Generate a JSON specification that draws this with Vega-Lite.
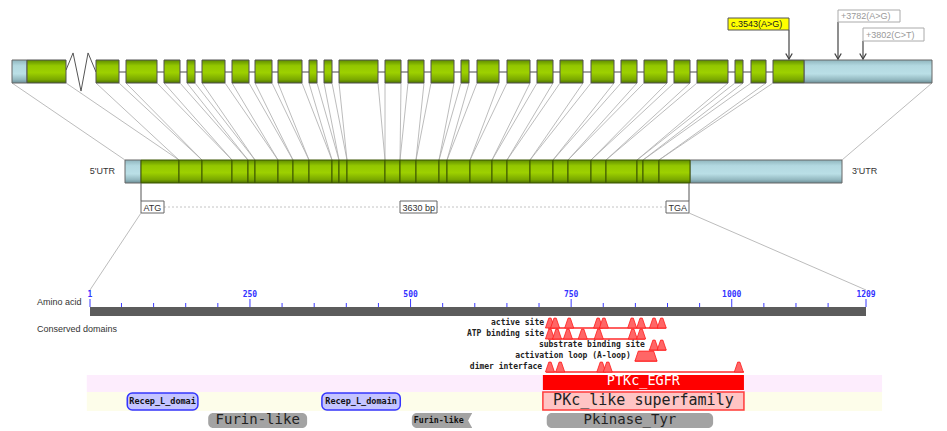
{
"$schema":"https://vega.github.io/schema/vega-lite/v6.json",
"width":947,"height":431,"padding":0,"autosize":{"type":"none"},
"background":"#ffffff",
"config":{"view":{"stroke":null},"axis":{"disable":true},"legend":{"disable":true}},
"datasets":{
"topExons":[{"exon":1,"start":27,"end":66},{"exon":2,"start":96,"end":119},{"exon":3,"start":126,"end":157},{"exon":4,"start":164,"end":180},{"exon":5,"start":187,"end":195},{"exon":6,"start":202,"end":225},{"exon":7,"start":232,"end":249},{"exon":8,"start":255,"end":272},{"exon":9,"start":278,"end":302},{"exon":10,"start":309,"end":317},{"exon":11,"start":324,"end":332},{"exon":12,"start":339,"end":378},{"exon":13,"start":385,"end":401},{"exon":14,"start":408,"end":424},{"exon":15,"start":431,"end":454},{"exon":16,"start":461,"end":469},{"exon":17,"start":477,"end":499},{"exon":18,"start":507,"end":530},{"exon":19,"start":537,"end":553},{"exon":20,"start":560,"end":583},{"exon":21,"start":591,"end":614},{"exon":22,"start":621,"end":637},{"exon":23,"start":644,"end":667},{"exon":24,"start":674,"end":690},{"exon":25,"start":697,"end":728},{"exon":26,"start":735,"end":743},{"exon":27,"start":751,"end":766},{"exon":28,"start":773,"end":804}],
"topUTR":[{"utr":"5'UTR","start":12,"end":27},{"utr":"3'UTR","start":804,"end":932}],
"mrnaExons":[{"exon":1,"start":141,"end":179},{"exon":2,"start":179,"end":202},{"exon":3,"start":202,"end":232},{"exon":4,"start":232,"end":248},{"exon":5,"start":248,"end":255},{"exon":6,"start":255,"end":278},{"exon":7,"start":278,"end":293},{"exon":8,"start":293,"end":309},{"exon":9,"start":309,"end":332},{"exon":10,"start":332,"end":339},{"exon":11,"start":339,"end":347},{"exon":12,"start":347,"end":385},{"exon":13,"start":385,"end":400},{"exon":14,"start":400,"end":416},{"exon":15,"start":416,"end":439},{"exon":16,"start":439,"end":447},{"exon":17,"start":447,"end":470},{"exon":18,"start":470,"end":492},{"exon":19,"start":492,"end":507},{"exon":20,"start":507,"end":530},{"exon":21,"start":530,"end":553},{"exon":22,"start":553,"end":568},{"exon":23,"start":568,"end":591},{"exon":24,"start":591,"end":606},{"exon":25,"start":606,"end":637},{"exon":26,"start":637,"end":643},{"exon":27,"start":643,"end":659},{"exon":28,"start":659,"end":690}],
"mrnaUTR":[{"utr":"5'UTR","start":125,"end":141},{"utr":"3'UTR","start":690,"end":842}],
"connectors":[{"genomic":12,"mrna":125},{"genomic":66,"mrna":179},{"genomic":96,"mrna":179},{"genomic":119,"mrna":202},{"genomic":126,"mrna":202},{"genomic":157,"mrna":232},{"genomic":164,"mrna":232},{"genomic":180,"mrna":248},{"genomic":187,"mrna":248},{"genomic":195,"mrna":255},{"genomic":202,"mrna":255},{"genomic":225,"mrna":278},{"genomic":232,"mrna":278},{"genomic":249,"mrna":293},{"genomic":255,"mrna":293},{"genomic":272,"mrna":309},{"genomic":278,"mrna":309},{"genomic":302,"mrna":332},{"genomic":309,"mrna":332},{"genomic":317,"mrna":339},{"genomic":324,"mrna":339},{"genomic":332,"mrna":347},{"genomic":339,"mrna":347},{"genomic":378,"mrna":385},{"genomic":385,"mrna":385},{"genomic":401,"mrna":400},{"genomic":408,"mrna":400},{"genomic":424,"mrna":416},{"genomic":431,"mrna":416},{"genomic":454,"mrna":439},{"genomic":461,"mrna":439},{"genomic":469,"mrna":447},{"genomic":477,"mrna":447},{"genomic":499,"mrna":470},{"genomic":507,"mrna":470},{"genomic":530,"mrna":492},{"genomic":537,"mrna":492},{"genomic":553,"mrna":507},{"genomic":560,"mrna":507},{"genomic":583,"mrna":530},{"genomic":591,"mrna":530},{"genomic":614,"mrna":553},{"genomic":621,"mrna":553},{"genomic":637,"mrna":568},{"genomic":644,"mrna":568},{"genomic":667,"mrna":591},{"genomic":674,"mrna":591},{"genomic":690,"mrna":606},{"genomic":697,"mrna":606},{"genomic":728,"mrna":637},{"genomic":735,"mrna":637},{"genomic":743,"mrna":643},{"genomic":751,"mrna":643},{"genomic":766,"mrna":659},{"genomic":773,"mrna":659},{"genomic":932,"mrna":842}],
"cdsLabels":[{"label":"ATG","boxStart":141,"boxEnd":164},{"label":"3630 bp","boxStart":400,"boxEnd":437},{"label":"TGA","boxStart":666,"boxEnd":689}],
"codons":[{"codon":"start (ATG)","pos":141},{"codon":"stop (TGA)","pos":689}],
"mutations":[{"mutation":"c.3543(A>G)","region":"coding","site":789,"boxStart":728,"boxEnd":789,"boxTop":18,"boxBottom":30},{"mutation":"+3782(A>G)","region":"3'UTR","site":838,"boxStart":838,"boxEnd":900,"boxTop":10,"boxBottom":22},{"mutation":"+3802(C>T)","region":"3'UTR","site":863,"boxStart":863,"boxEnd":924,"boxTop":28,"boxBottom":41}],
"aaTicks":[{"aa":1,"major":true},{"aa":50,"major":false},{"aa":100,"major":false},{"aa":150,"major":false},{"aa":200,"major":false},{"aa":250,"major":true},{"aa":300,"major":false},{"aa":350,"major":false},{"aa":400,"major":false},{"aa":450,"major":false},{"aa":500,"major":true},{"aa":550,"major":false},{"aa":600,"major":false},{"aa":650,"major":false},{"aa":700,"major":false},{"aa":750,"major":true},{"aa":800,"major":false},{"aa":850,"major":false},{"aa":900,"major":false},{"aa":950,"major":false},{"aa":1000,"major":true},{"aa":1050,"major":false},{"aa":1100,"major":false},{"aa":1150,"major":false},{"aa":1209,"major":true}],
"domains":[{"name":"PTKc_EGFR","label":"PTKc_EGFR","start":706,"end":1019,"type":"specific"},{"name":"PKc_like superfamily","label":"PKc_like superfamily","start":706,"end":1019,"type":"superfamily"},{"name":"Recep_L_domain 1","label":"Recep_L_domai","start":59,"end":169,"type":"pfam-blue"},{"name":"Recep_L_domain 2","label":"Recep_L_domain","start":362,"end":484,"type":"pfam-blue"},{"name":"Furin-like 1","label":"Furin-like","start":185,"end":339,"type":"pfam-gray"},{"name":"Furin-like 2","label":"Furin-like","start":502,"end":596,"type":"pfam-gray-partial"},{"name":"Pkinase_Tyr","label":"Pkinase_Tyr","start":712,"end":971,"type":"pfam-gray"}],
"sites":[{"site":"active site","start":714,"end":898},{"site":"ATP binding site","start":714,"end":865},{"site":"substrate binding site","start":871,"end":898},{"site":"activation loop (A-loop)","start":849,"end":884},{"site":"dimer interface","start":711,"end":1019}],
"siteMarks":[{"site":"active site","aa":717},{"site":"active site","aa":725},{"site":"active site","aa":747},{"site":"active site","aa":792},{"site":"active site","aa":801},{"site":"active site","aa":845},{"site":"active site","aa":859},{"site":"active site","aa":879},{"site":"active site","aa":891},{"site":"ATP binding site","aa":717},{"site":"ATP binding site","aa":728},{"site":"ATP binding site","aa":745},{"site":"ATP binding site","aa":768},{"site":"ATP binding site","aa":793},{"site":"ATP binding site","aa":846},{"site":"ATP binding site","aa":859},{"site":"substrate binding site","aa":879},{"site":"substrate binding site","aa":891},{"site":"dimer interface","aa":717},{"site":"dimer interface","aa":733},{"site":"dimer interface","aa":797},{"site":"dimer interface","aa":807},{"site":"dimer interface","aa":1011}]
},
"layer":[
{
"layer":[
{"data":{"values":[{"from":96,"to":804}]},"mark":{"type":"rule","stroke":"#4a4a4a","strokeWidth":1.2},
 "encoding":{"x":{"field":"from","type":"quantitative","scale":{"domain":[0,947],"range":[0,947],"nice":false,"zero":false}},"x2":{"field":"to"},"y":{"datum":72,"type":"quantitative","scale":{"domain":[0,431],"range":[0,431],"nice":false,"zero":false}}}},
{"data":{"values":[{"break":"intron 1 (not to scale)","x":81}]},"mark":{"type":"point","shape":"M-1,-0.13L-0.53,-1.27L0,1.27L0.47,-1.27L1,0","size":900,"filled":false,"stroke":"#555555","strokeWidth":1,"opacity":1},
 "encoding":{"x":{"field":"x","type":"quantitative","scale":{"domain":[0,947],"range":[0,947],"nice":false,"zero":false}},"y":{"datum":72,"type":"quantitative","scale":{"domain":[0,431],"range":[0,431],"nice":false,"zero":false}}}},
{"data":{"name":"connectors"},"mark":{"type":"rule","stroke":"#ababab","strokeWidth":0.8},
 "encoding":{"x":{"field":"genomic","type":"quantitative","scale":{"domain":[0,947],"range":[0,947],"nice":false,"zero":false}},"x2":{"field":"mrna"},"y":{"datum":83,"type":"quantitative","scale":{"domain":[0,431],"range":[0,431],"nice":false,"zero":false}},"y2":{"datum":160}}},
{"data":{"name":"topUTR"},"mark":{"type":"rect","stroke":"#666666","strokeWidth":1,"fill":{"gradient":"linear","x1":0,"y1":0,"x2":0,"y2":1,"stops":[{"offset":0,"color":"#8fb5bd"},{"offset":0.25,"color":"#b3d9e1"},{"offset":0.6,"color":"#badfe6"},{"offset":0.85,"color":"#94b9c1"},{"offset":1,"color":"#6c8f97"}]}},
 "encoding":{"x":{"field":"start","type":"quantitative","scale":{"domain":[0,947],"range":[0,947],"nice":false,"zero":false}},"x2":{"field":"end"},"y":{"datum":60,"type":"quantitative","scale":{"domain":[0,431],"range":[0,431],"nice":false,"zero":false}},"y2":{"datum":83}}},
{"data":{"name":"topExons"},"mark":{"type":"rect","stroke":"#505050","strokeWidth":1,"fill":{"gradient":"linear","x1":0,"y1":0,"x2":0,"y2":1,"stops":[{"offset":0,"color":"#5f8c00"},{"offset":0.25,"color":"#94c800"},{"offset":0.55,"color":"#9dd000"},{"offset":0.85,"color":"#7aa800"},{"offset":1,"color":"#4b6f00"}]}},
 "encoding":{"x":{"field":"start","type":"quantitative","scale":{"domain":[0,947],"range":[0,947],"nice":false,"zero":false}},"x2":{"field":"end"},"y":{"datum":60,"type":"quantitative","scale":{"domain":[0,431],"range":[0,431],"nice":false,"zero":false}},"y2":{"datum":83}}},
{"data":{"name":"mrnaUTR"},"mark":{"type":"rect","stroke":"#666666","strokeWidth":1,"fill":{"gradient":"linear","x1":0,"y1":0,"x2":0,"y2":1,"stops":[{"offset":0,"color":"#8fb5bd"},{"offset":0.25,"color":"#b3d9e1"},{"offset":0.6,"color":"#badfe6"},{"offset":0.85,"color":"#94b9c1"},{"offset":1,"color":"#6c8f97"}]}},
 "encoding":{"x":{"field":"start","type":"quantitative","scale":{"domain":[0,947],"range":[0,947],"nice":false,"zero":false}},"x2":{"field":"end"},"y":{"datum":160,"type":"quantitative","scale":{"domain":[0,431],"range":[0,431],"nice":false,"zero":false}},"y2":{"datum":183}}},
{"data":{"name":"mrnaExons"},"mark":{"type":"rect","stroke":"#3b5400","strokeWidth":1,"fill":{"gradient":"linear","x1":0,"y1":0,"x2":0,"y2":1,"stops":[{"offset":0,"color":"#5f8c00"},{"offset":0.25,"color":"#94c800"},{"offset":0.55,"color":"#9dd000"},{"offset":0.85,"color":"#7aa800"},{"offset":1,"color":"#4b6f00"}]}},
 "encoding":{"x":{"field":"start","type":"quantitative","scale":{"domain":[0,947],"range":[0,947],"nice":false,"zero":false}},"x2":{"field":"end"},"y":{"datum":160,"type":"quantitative","scale":{"domain":[0,431],"range":[0,431],"nice":false,"zero":false}},"y2":{"datum":183}}},
{"data":{"name":"mrnaUTR"},"transform":[{"filter":{"field":"utr","equal":"5'UTR"}}],"mark":{"type":"text","align":"right","baseline":"middle","dx":-10,"font":"Liberation Sans","fontSize":9,"fill":"#333333"},
 "encoding":{"x":{"field":"start","type":"quantitative","scale":{"domain":[0,947],"range":[0,947],"nice":false,"zero":false}},"y":{"datum":171,"type":"quantitative","scale":{"domain":[0,431],"range":[0,431],"nice":false,"zero":false}},"text":{"field":"utr"}}},
{"data":{"name":"mrnaUTR"},"transform":[{"filter":{"field":"utr","equal":"3'UTR"}}],"mark":{"type":"text","align":"left","baseline":"middle","dx":10,"font":"Liberation Sans","fontSize":9,"fill":"#333333"},
 "encoding":{"x":{"field":"end","type":"quantitative","scale":{"domain":[0,947],"range":[0,947],"nice":false,"zero":false}},"y":{"datum":171,"type":"quantitative","scale":{"domain":[0,431],"range":[0,431],"nice":false,"zero":false}},"text":{"field":"utr"}}},
{"data":{"name":"codons"},"mark":{"type":"rule","stroke":"#555555","strokeWidth":1},
 "encoding":{"x":{"field":"pos","type":"quantitative","scale":{"domain":[0,947],"range":[0,947],"nice":false,"zero":false}},"y":{"datum":183,"type":"quantitative","scale":{"domain":[0,431],"range":[0,431],"nice":false,"zero":false}},"y2":{"datum":201}}},
{"data":{"values":[{"from":164,"to":666}]},"mark":{"type":"rule","stroke":"#c4c4c4","strokeWidth":1,"strokeDash":[2,2]},
 "encoding":{"x":{"field":"from","type":"quantitative","scale":{"domain":[0,947],"range":[0,947],"nice":false,"zero":false}},"x2":{"field":"to"},"y":{"datum":207,"type":"quantitative","scale":{"domain":[0,431],"range":[0,431],"nice":false,"zero":false}}}},
{"data":{"name":"cdsLabels"},"mark":{"type":"rect","fill":"#ffffff","stroke":"#666666","strokeWidth":1},
 "encoding":{"x":{"field":"boxStart","type":"quantitative","scale":{"domain":[0,947],"range":[0,947],"nice":false,"zero":false}},"x2":{"field":"boxEnd"},"y":{"datum":201,"type":"quantitative","scale":{"domain":[0,431],"range":[0,431],"nice":false,"zero":false}},"y2":{"datum":213}}},
{"data":{"name":"cdsLabels"},"mark":{"type":"text","align":"left","baseline":"middle","dx":2.5,"font":"Liberation Sans","fontSize":9,"fill":"#333333"},
 "encoding":{"x":{"field":"boxStart","type":"quantitative","scale":{"domain":[0,947],"range":[0,947],"nice":false,"zero":false}},"y":{"datum":207.5,"type":"quantitative","scale":{"domain":[0,431],"range":[0,431],"nice":false,"zero":false}},"text":{"field":"label"}}},
{"data":{"values":[{"cds":141,"protein":90},{"cds":689,"protein":866}]},"mark":{"type":"rule","stroke":"#ababab","strokeWidth":0.8},
 "encoding":{"x":{"field":"cds","type":"quantitative","scale":{"domain":[0,947],"range":[0,947],"nice":false,"zero":false}},"x2":{"field":"protein"},"y":{"datum":213,"type":"quantitative","scale":{"domain":[0,431],"range":[0,431],"nice":false,"zero":false}},"y2":{"datum":290}}},
{"data":{"values":[{"label":"Amino acid"}]},"mark":{"type":"text","align":"left","baseline":"middle","font":"Liberation Sans","fontSize":9,"fill":"#333333"},
 "encoding":{"x":{"datum":37,"type":"quantitative","scale":{"domain":[0,947],"range":[0,947],"nice":false,"zero":false}},"y":{"datum":302,"type":"quantitative","scale":{"domain":[0,431],"range":[0,431],"nice":false,"zero":false}},"text":{"field":"label"}}},
{"data":{"values":[{"label":"Conserved domains"}]},"mark":{"type":"text","align":"left","baseline":"middle","font":"Liberation Sans","fontSize":9,"fill":"#333333"},
 "encoding":{"x":{"datum":37,"type":"quantitative","scale":{"domain":[0,947],"range":[0,947],"nice":false,"zero":false}},"y":{"datum":329,"type":"quantitative","scale":{"domain":[0,431],"range":[0,431],"nice":false,"zero":false}},"text":{"field":"label"}}},
{"data":{"name":"mutations"},"mark":{"type":"rule","stroke":"#444444","strokeWidth":1.2},
 "encoding":{"x":{"field":"site","type":"quantitative","scale":{"domain":[0,947],"range":[0,947],"nice":false,"zero":false}},"y":{"field":"boxBottom","type":"quantitative","scale":{"domain":[0,431],"range":[0,431],"nice":false,"zero":false}},"y2":{"datum":59}}},
{"data":{"name":"mutations"},"mark":{"type":"point","shape":"M-1,-1.7L0,0L1,-1.7","size":42,"filled":false,"stroke":"#444444","strokeWidth":1.3,"opacity":1},
 "encoding":{"x":{"field":"site","type":"quantitative","scale":{"domain":[0,947],"range":[0,947],"nice":false,"zero":false}},"y":{"datum":59,"type":"quantitative","scale":{"domain":[0,431],"range":[0,431],"nice":false,"zero":false}}}},
{"data":{"name":"mutations"},"mark":{"type":"rect","strokeWidth":1},
 "encoding":{"x":{"field":"boxStart","type":"quantitative","scale":{"domain":[0,947],"range":[0,947],"nice":false,"zero":false}},"x2":{"field":"boxEnd"},"y":{"field":"boxTop","type":"quantitative","scale":{"domain":[0,431],"range":[0,431],"nice":false,"zero":false}},"y2":{"field":"boxBottom"},
  "fill":{"field":"region","type":"nominal","scale":{"domain":["coding","3'UTR"],"range":["#ffff00","#ffffff"]},"legend":null},
  "stroke":{"field":"region","type":"nominal","scale":{"domain":["coding","3'UTR"],"range":["#555555","#aaaaaa"]},"legend":null}}},
{"data":{"name":"mutations"},"mark":{"type":"text","align":"left","baseline":"bottom","dx":3,"dy":-1.5,"font":"Liberation Sans","fontSize":9},
 "encoding":{"x":{"field":"boxStart","type":"quantitative","scale":{"domain":[0,947],"range":[0,947],"nice":false,"zero":false}},"y":{"field":"boxBottom","type":"quantitative","scale":{"domain":[0,431],"range":[0,431],"nice":false,"zero":false}},"text":{"field":"mutation"},
  "color":{"field":"region","type":"nominal","scale":{"domain":["coding","3'UTR"],"range":["#222222","#999999"]},"legend":null}}}
]
},
{
"layer":[
{"data":{"values":[{"band":"specific hits","start":-4,"end":1234}]},"mark":{"type":"rect","fill":"#fdedfd"},
 "encoding":{"x":{"field":"start","type":"quantitative","scale":{"domain":[1,1209],"range":[90,866],"nice":false,"zero":false}},"x2":{"field":"end"},"y":{"datum":375,"type":"quantitative","scale":{"domain":[0,431],"range":[0,431],"nice":false,"zero":false}},"y2":{"datum":392}}},
{"data":{"values":[{"band":"superfamilies","start":-4,"end":1234}]},"mark":{"type":"rect","fill":"#fdfdea"},
 "encoding":{"x":{"field":"start","type":"quantitative","scale":{"domain":[1,1209],"range":[90,866],"nice":false,"zero":false}},"x2":{"field":"end"},"y":{"datum":392,"type":"quantitative","scale":{"domain":[0,431],"range":[0,431],"nice":false,"zero":false}},"y2":{"datum":411}}},
{"data":{"values":[{"protein":"EGFR","start":1,"end":1209}]},"mark":{"type":"rect","fill":"#5c5c5c"},
 "encoding":{"x":{"field":"start","type":"quantitative","scale":{"domain":[1,1209],"range":[90,866],"nice":false,"zero":false}},"x2":{"field":"end"},"y":{"datum":307,"type":"quantitative","scale":{"domain":[0,431],"range":[0,431],"nice":false,"zero":false}},"y2":{"datum":316}}},
{"data":{"name":"aaTicks"},"transform":[{"filter":"!datum.major"}],"mark":{"type":"rule","stroke":"#3b3bff","strokeWidth":1},
 "encoding":{"x":{"field":"aa","type":"quantitative","scale":{"domain":[1,1209],"range":[90,866],"nice":false,"zero":false}},"y":{"datum":303,"type":"quantitative","scale":{"domain":[0,431],"range":[0,431],"nice":false,"zero":false}},"y2":{"datum":307}}},
{"data":{"name":"aaTicks"},"transform":[{"filter":"datum.major"}],"mark":{"type":"rule","stroke":"#3b3bff","strokeWidth":1},
 "encoding":{"x":{"field":"aa","type":"quantitative","scale":{"domain":[1,1209],"range":[90,866],"nice":false,"zero":false}},"y":{"datum":299,"type":"quantitative","scale":{"domain":[0,431],"range":[0,431],"nice":false,"zero":false}},"y2":{"datum":307}}},
{"data":{"name":"aaTicks"},"transform":[{"filter":"datum.major"}],"mark":{"type":"text","align":"center","baseline":"middle","font":"DejaVu Sans Mono","fontWeight":"bold","fontSize":8,"fill":"#3333ff"},
 "encoding":{"x":{"field":"aa","type":"quantitative","scale":{"domain":[1,1209],"range":[90,866],"nice":false,"zero":false}},"y":{"datum":295,"type":"quantitative","scale":{"domain":[0,431],"range":[0,431],"nice":false,"zero":false}},"text":{"field":"aa","type":"quantitative","format":"d"}}},
{"data":{"name":"domains"},"transform":[{"filter":{"field":"type","equal":"specific"}}],"mark":{"type":"rect","fill":"#ff0000"},
 "encoding":{"x":{"field":"start","type":"quantitative","scale":{"domain":[1,1209],"range":[90,866],"nice":false,"zero":false}},"x2":{"field":"end"},"y":{"datum":375,"type":"quantitative","scale":{"domain":[0,431],"range":[0,431],"nice":false,"zero":false}},"y2":{"datum":390}}},
{"data":{"name":"domains"},"transform":[{"filter":{"field":"type","equal":"superfamily"}}],"mark":{"type":"rect","fill":"#ffc4c4","stroke":"#ff3b3b","strokeWidth":1.5},
 "encoding":{"x":{"field":"start","type":"quantitative","scale":{"domain":[1,1209],"range":[90,866],"nice":false,"zero":false}},"x2":{"field":"end"},"y":{"datum":392,"type":"quantitative","scale":{"domain":[0,431],"range":[0,431],"nice":false,"zero":false}},"y2":{"datum":410}}},
{"data":{"name":"domains"},"transform":[{"filter":{"field":"type","equal":"pfam-blue"}}],"mark":{"type":"rect","fill":"#c4c4ff","stroke":"#3535ff","strokeWidth":1.5,"cornerRadius":5},
 "encoding":{"x":{"field":"start","type":"quantitative","scale":{"domain":[1,1209],"range":[90,866],"nice":false,"zero":false}},"x2":{"field":"end"},"y":{"datum":393,"type":"quantitative","scale":{"domain":[0,431],"range":[0,431],"nice":false,"zero":false}},"y2":{"datum":410}}},
{"data":{"name":"domains"},"transform":[{"filter":{"field":"type","equal":"pfam-gray"}}],"mark":{"type":"rect","fill":"#a3a3a3","cornerRadius":5},
 "encoding":{"x":{"field":"start","type":"quantitative","scale":{"domain":[1,1209],"range":[90,866],"nice":false,"zero":false}},"x2":{"field":"end"},"y":{"datum":413,"type":"quantitative","scale":{"domain":[0,431],"range":[0,431],"nice":false,"zero":false}},"y2":{"datum":428}}},
{"data":{"name":"domains"},"transform":[{"filter":{"field":"type","equal":"pfam-gray-partial"}}],"mark":{"type":"rect","fill":"#a3a3a3","cornerRadiusTopLeft":5,"cornerRadiusBottomLeft":5},
 "encoding":{"x":{"field":"start","type":"quantitative","scale":{"domain":[1,1209],"range":[90,866],"nice":false,"zero":false}},"x2":{"field":"end"},"y":{"datum":413,"type":"quantitative","scale":{"domain":[0,431],"range":[0,431],"nice":false,"zero":false}},"y2":{"datum":428}}},
{"data":{"name":"domains"},"transform":[{"filter":{"field":"type","equal":"pfam-gray-partial"}}],"mark":{"type":"point","shape":"M0,-1L-0.55,0L0,1L0.4,1L0.4,-1Z","size":225,"filled":true,"fill":"#ffffff","strokeWidth":0,"opacity":1},
 "encoding":{"x":{"field":"end","type":"quantitative","scale":{"domain":[1,1209],"range":[90,866],"nice":false,"zero":false}},"y":{"datum":420.5,"type":"quantitative","scale":{"domain":[0,431],"range":[0,431],"nice":false,"zero":false}}}},
{"data":{"name":"domains"},"transform":[{"filter":{"field":"type","equal":"specific"}},{"fold":["start","end"],"as":["edge","pos"]},{"aggregate":[{"op":"mean","field":"pos","as":"mid"}],"groupby":["name","label"]}],"mark":{"type":"text","align":"center","baseline":"alphabetic","font":"DejaVu Sans Mono","fontSize":13.5,"fill":"#ffffff"},
 "encoding":{"x":{"field":"mid","type":"quantitative","scale":{"domain":[1,1209],"range":[90,866],"nice":false,"zero":false}},"y":{"datum":385,"type":"quantitative","scale":{"domain":[0,431],"range":[0,431],"nice":false,"zero":false}},"text":{"field":"label"}}},
{"data":{"name":"domains"},"transform":[{"filter":{"field":"type","equal":"superfamily"}},{"fold":["start","end"],"as":["edge","pos"]},{"aggregate":[{"op":"mean","field":"pos","as":"mid"}],"groupby":["name","label"]}],"mark":{"type":"text","align":"center","baseline":"middle","font":"DejaVu Sans Mono","fontSize":15,"fill":"#222222"},
 "encoding":{"x":{"field":"mid","type":"quantitative","scale":{"domain":[1,1209],"range":[90,866],"nice":false,"zero":false}},"y":{"datum":399.5,"type":"quantitative","scale":{"domain":[0,431],"range":[0,431],"nice":false,"zero":false}},"text":{"field":"label"}}},
{"data":{"name":"domains"},"transform":[{"filter":{"field":"type","equal":"pfam-blue"}},{"fold":["start","end"],"as":["edge","pos"]},{"aggregate":[{"op":"mean","field":"pos","as":"mid"}],"groupby":["name","label"]}],"mark":{"type":"text","align":"center","baseline":"middle","font":"DejaVu Sans Mono","fontWeight":"bold","fontSize":8.5,"fill":"#111111"},
 "encoding":{"x":{"field":"mid","type":"quantitative","scale":{"domain":[1,1209],"range":[90,866],"nice":false,"zero":false}},"y":{"datum":401,"type":"quantitative","scale":{"domain":[0,431],"range":[0,431],"nice":false,"zero":false}},"text":{"field":"label"}}},
{"data":{"name":"domains"},"transform":[{"filter":{"field":"type","equal":"pfam-gray"}},{"fold":["start","end"],"as":["edge","pos"]},{"aggregate":[{"op":"mean","field":"pos","as":"mid"}],"groupby":["name","label"]}],"mark":{"type":"text","align":"center","baseline":"middle","font":"DejaVu Sans Mono","fontSize":14,"fill":"#222222"},
 "encoding":{"x":{"field":"mid","type":"quantitative","scale":{"domain":[1,1209],"range":[90,866],"nice":false,"zero":false}},"y":{"datum":420,"type":"quantitative","scale":{"domain":[0,431],"range":[0,431],"nice":false,"zero":false}},"text":{"field":"label"}}},
{"data":{"name":"domains"},"transform":[{"filter":{"field":"type","equal":"pfam-gray-partial"}}],"mark":{"type":"text","align":"left","baseline":"middle","dx":2,"font":"DejaVu Sans Mono","fontWeight":"bold","fontSize":8.3,"fill":"#111111"},
 "encoding":{"x":{"field":"start","type":"quantitative","scale":{"domain":[1,1209],"range":[90,866],"nice":false,"zero":false}},"y":{"datum":420.5,"type":"quantitative","scale":{"domain":[0,431],"range":[0,431],"nice":false,"zero":false}},"text":{"field":"label"}}}
]
},
{
"layer":[
{"data":{"name":"sites"},"mark":{"type":"rule","stroke":"#ff2a2a","strokeWidth":1.5},
 "encoding":{"x":{"field":"start","type":"quantitative","scale":{"domain":[1,1209],"range":[90,866],"nice":false,"zero":false}},"x2":{"field":"end"},"y":{"field":"site","type":"nominal","scale":{"type":"point","domain":["active site","ATP binding site","substrate binding site","activation loop (A-loop)","dimer interface"],"range":[328,372],"padding":0}}}},
{"data":{"name":"siteMarks"},"mark":{"type":"point","shape":"M-1,0L-0.25,-2.2L0.25,-2.2L1,0Z","size":81,"filled":true,"fill":"#ff6666","stroke":"#ff1a1a","strokeWidth":0.8,"opacity":1},
 "encoding":{"x":{"field":"aa","type":"quantitative","scale":{"domain":[1,1209],"range":[90,866],"nice":false,"zero":false}},"y":{"field":"site","type":"nominal","scale":{"type":"point","domain":["active site","ATP binding site","substrate binding site","activation loop (A-loop)","dimer interface"],"range":[328,372],"padding":0}}}},
{"data":{"name":"sites"},"transform":[{"filter":{"field":"site","equal":"activation loop (A-loop)"}},{"fold":["start","end"],"as":["edge","pos"]},{"aggregate":[{"op":"mean","field":"pos","as":"mid"}],"groupby":["site"]}],"mark":{"type":"point","shape":"M-1,0L-0.7,-0.9L0.7,-0.9L1,0Z","size":484,"filled":true,"fill":"#ff6666","stroke":"#ff1a1a","strokeWidth":0.8,"opacity":1},
 "encoding":{"x":{"field":"mid","type":"quantitative","scale":{"domain":[1,1209],"range":[90,866],"nice":false,"zero":false}},"y":{"field":"site","type":"nominal","scale":{"type":"point","domain":["active site","ATP binding site","substrate binding site","activation loop (A-loop)","dimer interface"],"range":[328,372],"padding":0}}}},
{"data":{"name":"sites"},"mark":{"type":"text","align":"right","baseline":"middle","dx":-4,"dy":-5,"font":"DejaVu Sans Mono","fontWeight":"bold","fontSize":8,"fill":"#222222"},
 "encoding":{"x":{"field":"start","type":"quantitative","scale":{"domain":[1,1209],"range":[90,866],"nice":false,"zero":false}},"y":{"field":"site","type":"nominal","scale":{"type":"point","domain":["active site","ATP binding site","substrate binding site","activation loop (A-loop)","dimer interface"],"range":[328,372],"padding":0}},"text":{"field":"site"}}}
]
}
],
"resolve":{"scale":{"x":"independent","y":"independent"}}
}
